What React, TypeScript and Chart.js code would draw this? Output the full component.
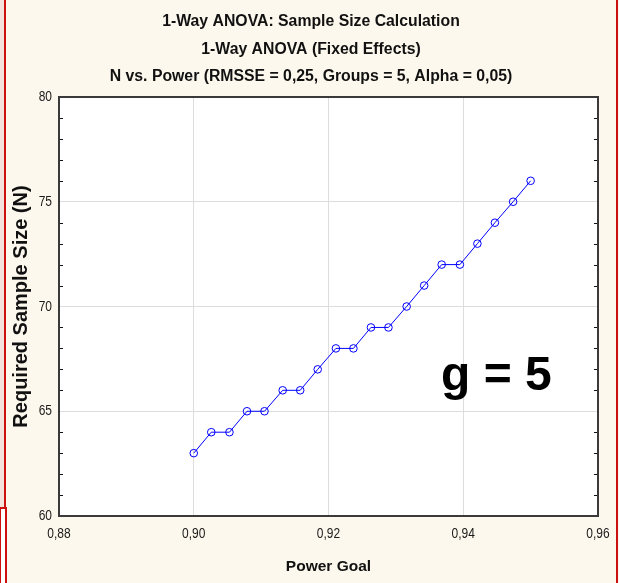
import { useEffect, useRef } from "react";
import { Chart, registerables } from "chart.js";

Chart.register(...registerables);

// ---- data ----
const powerGoal = [
  0.9, 0.9026, 0.9053, 0.9079, 0.9105, 0.9132, 0.9158, 0.9184, 0.9211, 0.9237,
  0.9263, 0.9289, 0.9316, 0.9342, 0.9368, 0.9395, 0.9421, 0.9447, 0.9474, 0.95,
];
const requiredN = [63, 64, 64, 65, 65, 66, 66, 67, 68, 68, 69, 69, 70, 71, 72, 72, 73, 74, 75, 76];

const titleLines = [
  "1-Way ANOVA: Sample Size Calculation",
  "1-Way ANOVA (Fixed Effects)",
  "N vs. Power (RMSSE = 0,25, Groups = 5, Alpha = 0,05)",
];
const xTitle = "Power Goal";
const yTitle = "Required Sample Size (N)";
const xRange = [0.88, 0.96];
const xStep = 0.02;
const yRange = [60, 80];
const yStep = 5;
const yMinorStep = 1;
const annotationText = "g = 5";
const annotationAt = [0.9367, 66];

const SANS = "'Liberation Sans', Arial, sans-serif";

const fmtX = (v: number) => v.toFixed(2).replace(".", ",");
const fmtY = (v: number) => String(Math.round(v));

const decor = {
  id: "decor",
  beforeDraw(chart: any) {
    const { ctx, width, height, chartArea: a } = chart;
    ctx.save();
    ctx.fillStyle = "#fdf8ed";
    ctx.fillRect(0, 0, width, height);
    // left pinkish strip and red frame lines
    ctx.fillStyle = "#f4e3dd";
    ctx.fillRect(0, 0, 4, height);
    ctx.fillStyle = "#cc1010";
    ctx.fillRect(4, 0, 2, 507);
    ctx.fillRect(616, 0, 2, height);
    // bottom-left box
    ctx.fillStyle = "#ffffff";
    ctx.fillRect(0, 507, 6, height - 507);
    ctx.fillStyle = "#cc1010";
    ctx.fillRect(0, 507, 7, 2);
    ctx.fillRect(0, 507, 1, height - 507);
    ctx.fillRect(5, 507, 2, height - 507);
    // plot area
    ctx.fillStyle = "#ffffff";
    ctx.fillRect(a.left, a.top, a.right - a.left, a.bottom - a.top);
    ctx.restore();
  },
  afterDraw(chart: any) {
    const { ctx, chartArea: a } = chart;
    const ys = chart.scales.y;
    const xs = chart.scales.x;
    ctx.save();
    // titles
    ctx.fillStyle = "#111";
    ctx.font = `bold 15.8px ${SANS}`;
    ctx.textAlign = "center";
    ctx.textBaseline = "middle";
    const titleY = [22, 49.5, 77];
    titleLines.forEach((t, i) => ctx.fillText(t, 311, titleY[i]));
    // tick labels (condensed, like Arial Narrow)
    ctx.fillStyle = "#1a1a1a";
    ctx.font = `15px ${SANS}`;
    for (const t of xs.ticks) {
      const px = xs.getPixelForValue(t.value);
      ctx.save();
      ctx.translate(px, 534);
      ctx.scale(0.8, 1);
      ctx.textAlign = "center";
      ctx.fillText(fmtX(t.value), 0, 0);
      ctx.restore();
    }
    for (const t of ys.ticks) {
      const py = ys.getPixelForValue(t.value);
      ctx.save();
      ctx.translate(a.left - 7, py);
      ctx.scale(0.8, 1);
      ctx.textAlign = "right";
      ctx.fillText(fmtY(t.value), 0, 0);
      ctx.restore();
    }
    // minor ticks
    ctx.strokeStyle = "#111";
    ctx.lineWidth = 1;
    ctx.beginPath();
    for (let v = yRange[0] + yMinorStep; v < yRange[1]; v += yMinorStep) {
      if (v % yStep === 0) continue;
      const py = Math.round(ys.getPixelForValue(v)) + 0.5;
      ctx.moveTo(a.left, py);
      ctx.lineTo(a.left + 4, py);
      ctx.moveTo(a.right, py);
      ctx.lineTo(a.right - 4, py);
    }
    ctx.stroke();
    // frame
    ctx.strokeStyle = "#3a3a3a";
    ctx.lineWidth = 2;
    ctx.strokeRect(a.left, a.top, a.right - a.left, a.bottom - a.top);
    // annotation
    ctx.fillStyle = "#000";
    ctx.font = `bold 48px ${SANS}`;
    ctx.textAlign = "left";
    ctx.textBaseline = "alphabetic";
    ctx.fillText(annotationText, xs.getPixelForValue(annotationAt[0]), ys.getPixelForValue(annotationAt[1]));
    ctx.restore();
  },
};

export default function App() {
  const ref = useRef<HTMLCanvasElement>(null);
  useEffect(() => {
    if (!ref.current) return;
    const chart = new Chart(ref.current, {
      type: "line",
      data: {
        datasets: [
          {
            data: powerGoal.map((x, i) => ({ x, y: requiredN[i] })),
            borderColor: "#0000ff",
            borderWidth: 1,
            pointStyle: "circle",
            pointRadius: 3.8,
            pointBorderWidth: 1,
            pointBorderColor: "#0000ff",
            pointBackgroundColor: "rgba(0,0,0,0)",
            fill: false,
            tension: 0,
          },
        ],
      },
      options: {
        animation: false,
        responsive: false,
        devicePixelRatio: 1,
        layout: { padding: { left: 0, right: 21, top: 97, bottom: 0 } },
        plugins: {
          legend: { display: false },
          tooltip: { enabled: false },
          title: { display: false },
        },
        scales: {
          x: {
            type: "linear",
            min: xRange[0],
            max: xRange[1],
            afterFit: (s: any) => {
              s.height = 67;
            },
            ticks: { stepSize: xStep, display: false },
            grid: { color: "#dddddd", drawTicks: false, lineWidth: 1 },
            border: { display: false },
            title: {
              display: true,
              text: xTitle,
              color: "#111",
              font: { family: SANS, size: 15.5, weight: "bold" },
              padding: { top: 0, bottom: 7 },
            },
          },
          y: {
            type: "linear",
            min: yRange[0],
            max: yRange[1],
            afterFit: (s: any) => {
              s.width = 59;
            },
            ticks: { stepSize: yStep, display: false },
            grid: { color: "#dddddd", drawTicks: false, lineWidth: 1 },
            border: { display: false },
            title: {
              display: true,
              text: yTitle,
              color: "#111",
              font: { family: SANS, size: 20, weight: "bold" },
              padding: { top: 9, bottom: 0 },
            },
          },
        },
      },
      plugins: [decor],
    });
    return () => chart.destroy();
  }, []);
  return (
    <div style={{ position: "absolute", left: 0, top: 0, width: 619, height: 583 }}>
      <canvas ref={ref} width={619} height={583} style={{ display: "block" }} />
    </div>
  );
}
